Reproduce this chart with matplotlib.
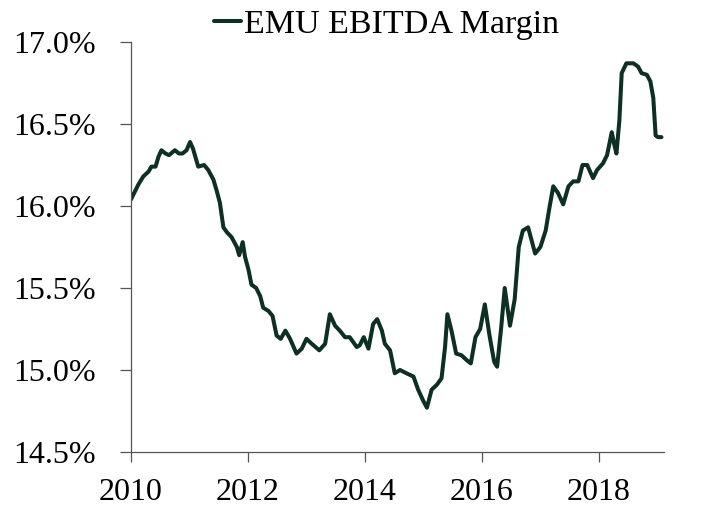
import matplotlib
matplotlib.use("Agg")
import matplotlib.pyplot as plt
from matplotlib.ticker import FuncFormatter

# Data (decimal year, EBITDA margin in %)
years = [2010.00, 2010.125, 2010.21, 2010.30, 2010.35, 2010.42, 2010.47, 2010.52, 2010.59, 2010.65,
         2010.75, 2010.82, 2010.88, 2010.95, 2011.01, 2011.06, 2011.15, 2011.25, 2011.32, 2011.41,
         2011.46, 2011.52, 2011.58, 2011.64, 2011.72, 2011.81, 2011.85, 2011.91, 2011.95, 2012.01,
         2012.06, 2012.14, 2012.21, 2012.26, 2012.35, 2012.42, 2012.49, 2012.56, 2012.64, 2012.72,
         2012.83, 2012.92, 2013.00, 2013.09, 2013.22, 2013.32, 2013.40, 2013.49, 2013.57, 2013.66,
         2013.74, 2013.86, 2013.91, 2013.98, 2014.06, 2014.14, 2014.21, 2014.29, 2014.34, 2014.43,
         2014.51, 2014.60, 2014.71, 2014.83, 2014.91, 2015.00, 2015.06, 2015.14, 2015.23, 2015.31,
         2015.37, 2015.41, 2015.48, 2015.56, 2015.65, 2015.74, 2015.81, 2015.89, 2015.97, 2016.05,
         2016.13, 2016.21, 2016.26, 2016.33, 2016.39, 2016.48, 2016.56, 2016.63, 2016.70, 2016.79,
         2016.85, 2016.91, 2017.00, 2017.09, 2017.15, 2017.22, 2017.30, 2017.39, 2017.48, 2017.56,
         2017.65, 2017.72, 2017.80, 2017.90, 2017.97, 2018.07, 2018.14, 2018.22, 2018.26, 2018.30,
         2018.35, 2018.39, 2018.47, 2018.59, 2018.67, 2018.73, 2018.82, 2018.88, 2018.93, 2018.97,
         2019.01, 2019.07]
margin = [16.04, 16.13, 16.18, 16.21, 16.24, 16.24, 16.30, 16.34, 16.32, 16.31,
          16.34, 16.32, 16.32, 16.34, 16.39, 16.35, 16.24, 16.25, 16.22, 16.16,
          16.10, 16.02, 15.87, 15.84, 15.81, 15.75, 15.70, 15.78, 15.69, 15.61,
          15.52, 15.50, 15.45, 15.38, 15.36, 15.33, 15.21, 15.19, 15.24, 15.19,
          15.10, 15.13, 15.19, 15.16, 15.12, 15.16, 15.34, 15.27, 15.24, 15.20,
          15.20, 15.14, 15.15, 15.20, 15.13, 15.28, 15.31, 15.24, 15.16, 15.12,
          14.98, 15.00, 14.98, 14.96, 14.88, 14.81, 14.77, 14.88, 14.91, 14.95,
          15.14, 15.34, 15.24, 15.10, 15.09, 15.06, 15.04, 15.20, 15.25, 15.40,
          15.21, 15.05, 15.02, 15.26, 15.50, 15.27, 15.43, 15.75, 15.85, 15.87,
          15.79, 15.71, 15.75, 15.85, 15.98, 16.12, 16.08, 16.01, 16.12, 16.15,
          16.15, 16.25, 16.25, 16.17, 16.22, 16.26, 16.31, 16.45, 16.38, 16.32,
          16.52, 16.81, 16.87, 16.87, 16.85, 16.81, 16.80, 16.76, 16.66, 16.43,
          16.42, 16.42]
series_label = "EMU EBITDA Margin"
x_ticks = [2010, 2012, 2014, 2016, 2018]
y_ticks = [14.5, 15.0, 15.5, 16.0, 16.5, 17.0]

plt.rcParams['font.family'] = ['Liberation Serif', 'DejaVu Serif']

fig = plt.figure(figsize=(7.13, 5.09), dpi=100)
ax = fig.add_axes([0.1837, 0.112, 0.931 - 0.1837, 0.9175 - 0.112])

line_color = '#0d2f24'
ax.plot(years, margin, color=line_color, linewidth=2.9, label=series_label,
        solid_joinstyle='round', solid_capstyle='round')

ax.set_xlim(2010, 2019.11)
ax.set_ylim(14.5, 17.0)
ax.set_xticks(x_ticks)
ax.set_xticklabels([str(t) for t in x_ticks])
ax.set_yticks(y_ticks)
ax.yaxis.set_major_formatter(FuncFormatter(lambda v, p: f"{v:.1f}%"))

for s in ['top', 'right']:
    ax.spines[s].set_visible(False)
for s in ['left', 'bottom']:
    ax.spines[s].set_color('#555555')
    ax.spines[s].set_linewidth(0.9)

ax.tick_params(axis='y', direction='out', length=8, width=0.9, color='#555555',
               labelsize=23, pad=17)
ax.tick_params(axis='x', direction='out', length=7.5, width=0.9, color='#555555',
               labelsize=23, pad=11)

handles, labels = ax.get_legend_handles_labels()
fig.legend(handles, labels, loc='center', bbox_to_anchor=(0.542, 0.951),
           frameon=False, fontsize=24.5, handlelength=0.8, handletextpad=0.1,
           borderpad=0, borderaxespad=0)

fig.savefig("out.png", dpi=100)
